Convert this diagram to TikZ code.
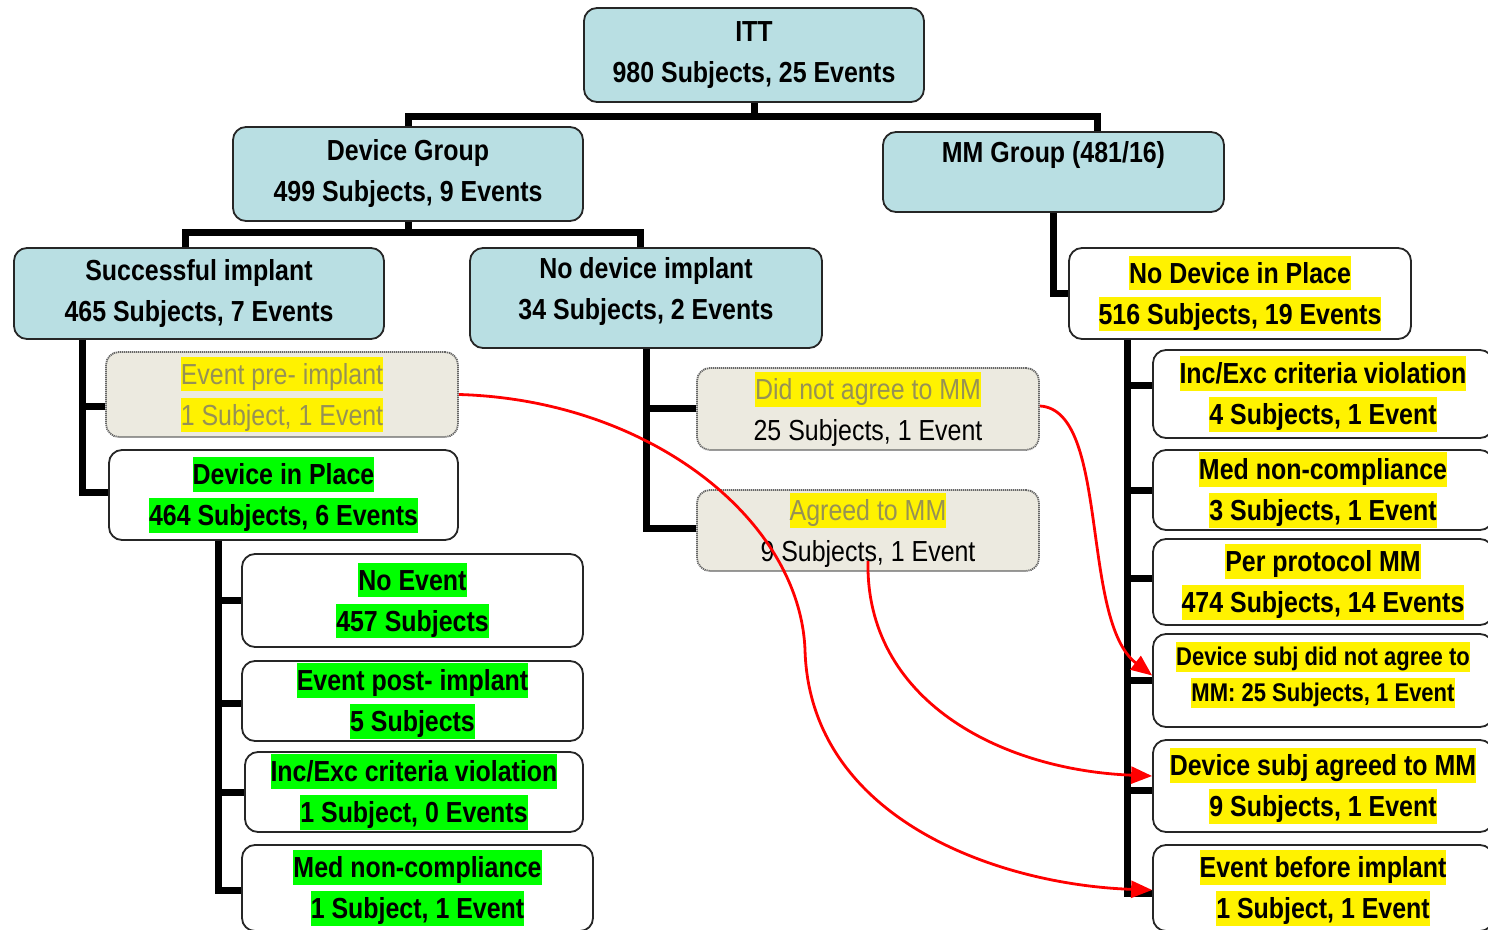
\documentclass[tikz,border=0pt]{standalone}
\usepackage{fontspec}
\setmainfont{Liberation Sans}[FakeStretch=0.86]
\usetikzlibrary{calc,arrows.meta}
\definecolor{boxblue}{RGB}{185,223,227}
\definecolor{grayfill}{RGB}{236,234,224}
\definecolor{grtext}{RGB}{150,145,85}
\definecolor{hlgreen}{RGB}{0,255,0}
\newcommand\hlb[2]{{\setlength\fboxsep{0pt}\colorbox{#1}{\rule[-0.25em]{0pt}{1.2em}#2}}}
\newcommand\hy[1]{\hlb{yellow}{#1}}
\newcommand\hg[1]{\hlb{hlgreen}{#1}}
\newcommand\gt[1]{\textcolor{grtext}{#1}}
\tikzset{
  base/.style={rectangle, rounded corners=6.5pt, draw=black!85, line width=0.9pt, inner sep=0pt, align=center, font=\fontsize{14.5}{20.5}\selectfont\bfseries},
  bluebox/.style={base, fill=boxblue},
  whitebox/.style={base, fill=white},
  graybox/.style={base, fill=grayfill, draw=black!60, dash pattern=on 0.6pt off 0.4pt, font=\fontsize{14.5}{20.5}\selectfont},
  boxtext/.style={inner sep=0pt, align=center, font=\fontsize{14.5}{20.5}\selectfont\bfseries},
  tree/.style={line width=3.5pt, black},
  redarrow/.style={red, line width=1.4pt, -{Triangle[length=10.5pt,width=8.5pt]}}
}
\begin{document}
\begin{tikzpicture}[x=0.5pt,y=-0.5pt]
\useasboundingbox (0,0) rectangle (1488,930);
\clip (0,0) rectangle (1488,930);
% top level
\node[bluebox, minimum width=170pt, minimum height=47pt] (itt) at (754,55) {ITT\\980 Subjects, 25 Events};
\node[bluebox, minimum width=175pt, minimum height=47pt] (dev) at (408,174) {Device Group\\499 Subjects, 9 Events};
\node[bluebox, minimum width=170.5pt, minimum height=40pt] (mm) at (1053.5,172) {MM Group (481/16)\\\mbox{}};
\node[bluebox, minimum width=185pt, minimum height=45.5pt] (succ) at (199,293.5) {Successful implant\\465 Subjects, 7 Events};
\node[bluebox, minimum width=176pt, minimum height=50pt] (nodev) at (646,298) {};
\node[boxtext] (nodevt) at (646,292) {No device implant\\34 Subjects, 2 Events};
% left branch
\node[graybox, minimum width=176pt, minimum height=42.5pt] (pre) at (282,394.5) {\hy{\gt{Event pre- implant}}\\\hy{\gt{1 Subject, 1 Event}}};
\node[whitebox, minimum width=174.5pt, minimum height=45pt] (dip) at (283.5,495) {\hg{Device in Place}\\\hg{464 Subjects, 6 Events}};
\node[whitebox, minimum width=170.5pt, minimum height=46.5pt] (noev) at (412.5,600.5) {\hg{No Event}\\\hg{457 Subjects}};
\node[whitebox, minimum width=170.5pt, minimum height=40pt] (post) at (412.5,701) {\hg{Event post- implant}\\\hg{5 Subjects}};
\node[whitebox, minimum width=169pt, minimum height=40pt] (incl) at (414,792) {\hg{Inc/Exc criteria violation}\\\hg{1 Subject, 0 Events}};
\node[whitebox, minimum width=175.5pt, minimum height=43pt] (medl) at (417.5,888) {\hg{Med non-compliance}\\\hg{1 Subject, 1 Event}};
% middle
\node[graybox, minimum width=171pt, minimum height=41pt] (dna) at (868,409) {\hy{\gt{Did not agree to MM}}\\25 Subjects, 1 Event};
\node[graybox, minimum width=171pt, minimum height=40.5pt] (agr) at (868,530.5) {\hy{\gt{Agreed to MM}}\\9 Subjects, 1 Event};
% right branch
\node[whitebox, minimum width=171pt, minimum height=45.5pt] (ndp) at (1240,293.5) {\hy{No Device in Place}\\\hy{516 Subjects, 19 Events}};
\node[whitebox, minimum width=170pt, minimum height=44pt] (incr) at (1323,394) {\hy{Inc/Exc criteria violation}\\\hy{4 Subjects, 1 Event}};
\node[whitebox, minimum width=170pt, minimum height=40pt] (medr) at (1323,490) {\hy{Med non-compliance}\\\hy{3 Subjects, 1 Event}};
\node[whitebox, minimum width=170pt, minimum height=43pt] (pp) at (1323,582) {\hy{Per protocol MM}\\\hy{474 Subjects, 14 Events}};
\node[whitebox, minimum width=170pt, minimum height=46.5pt] (dsn) at (1323,680.5) {};
\node[boxtext, font=\fontsize{12.8}{18}\selectfont\bfseries] (dsnt) at (1323,675) {\hy{Device subj did not agree to}\\\hy{MM: 25 Subjects, 1 Event}};
\node[whitebox, minimum width=170pt, minimum height=46pt] (dsa) at (1323,786) {\hy{Device subj agreed to MM}\\\hy{9 Subjects, 1 Event}};
\node[whitebox, minimum width=170pt, minimum height=43pt] (ebi) at (1323,888) {\hy{Event before implant}\\\hy{1 Subject, 1 Event}};
% tree connectors
\coordinate (j1) at (754,117);
\coordinate (j2) at (408,233);
\draw[tree] (itt.south) -- (j1);
\draw[tree] (dev.north) |- (j1) -| ($(mm.north)+(43.5,0)$);
\draw[tree] (dev.south) -- (j2);
\draw[tree] ($(succ.north)+(-14,0)$) |- (j2) -| ($(nodev.north)+(-6,0)$);
\draw[tree] ($(succ.south)+(-117,0)$) |- ($(dip.west)+(0,-3)$);
\draw[tree] ($(succ.south)+(-117,0)$) |- ($(pre.west)+(0,12.5)$);
\draw[tree] ($(dip.south)+(-65.5,0)$) |- ($(medl.west)+(0,2)$);
\draw[tree] ($(dip.south)+(-65.5,0)$) |- (noev.west);
\draw[tree] ($(dip.south)+(-65.5,0)$) |- ($(post.west)+(0,2)$);
\draw[tree] ($(dip.south)+(-65.5,0)$) |- (incl.west);
\draw[tree] (nodev.south) |- ($(agr.west)+(0,-2.5)$);
\draw[tree] (nodev.south) |- (dna.west);
\draw[tree] (mm.south) |- (ndp.west);
\draw[tree] ($(ndp.south)+(-113,0)$) |- ($(ebi.west)+(0,5)$);
\draw[tree] ($(ndp.south)+(-113,0)$) |- ($(incr.west)+(0,-8)$);
\draw[tree] ($(ndp.south)+(-113,0)$) |- (medr.west);
\draw[tree] ($(ndp.south)+(-113,0)$) |- ($(pp.west)+(0,-4)$);
\draw[tree] ($(ndp.south)+(-113,0)$) |- (dsn.west);
\draw[tree] ($(ndp.south)+(-113,0)$) |- ($(dsa.west)+(0,4)$);
% red arrows
\draw[redarrow] (pre.east) .. controls (650,400) and (800,520) .. (805,650) .. controls (810,820) and (1000,885) .. ($(ebi.west)+(0,2)$);
\draw[redarrow] ($(dna.east)+(0,-3)$) .. controls (1110,410) and (1080,620) .. ($(dsn.west)+(0,-5)$);
\draw[redarrow] ($(agr.south)+(0,-11)$) .. controls (865,700) and (1000,770) .. ($(dsa.west)+(0,-10)$);
\end{tikzpicture}
\end{document}
